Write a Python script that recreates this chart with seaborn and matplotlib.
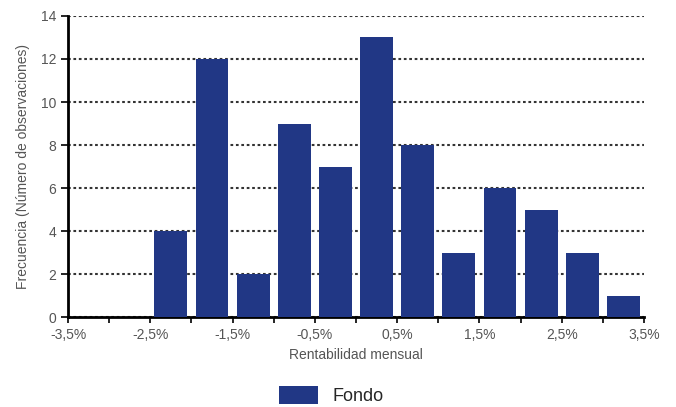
import numpy as np
import pandas as pd
import matplotlib.pyplot as plt
import seaborn as sns

# ---------------- data ----------------
bin_edges = [-3.5, -3.0, -2.5, -2.0, -1.5, -1.0, -0.5, 0.0, 0.5, 1.0, 1.5, 2.0, 2.5, 3.0, 3.5]
counts = [0, 0, 4, 12, 2, 9, 7, 13, 8, 3, 6, 5, 3, 1]
x_ticks = [-3.5, -2.5, -1.5, -0.5, 0.5, 1.5, 2.5, 3.5]
x_labels = ['-3,5%', '-2,5%', '-1,5%', '-0,5%', '0,5%', '1,5%', '2,5%', '3,5%']
y_ticks = [0, 2, 4, 6, 8, 10, 12, 14]

centers = [(bin_edges[i] + bin_edges[i + 1]) / 2 for i in range(len(counts))]
df = pd.DataFrame({'rent': centers, 'n': counts})

sns.set_style('white')
plt.rcParams['font.family'] = ['Liberation Sans', 'DejaVu Sans']

fig = plt.figure(figsize=(6.76, 4.07), dpi=100)
ax = fig.add_axes([0.1006, 0.2211, 0.852, 0.7396])

sns.histplot(data=df, x='rent', weights='n', bins=bin_edges, shrink=0.8,
             color='#213785', alpha=1, edgecolor='none', linewidth=0,
             label='Fondo', ax=ax, zorder=3)

ax.set_xlim(-3.5, 3.5)
ax.set_ylim(0, 14)
ax.set_xticks(x_ticks)
ax.set_xticklabels(x_labels)
ax.set_xticks(bin_edges, minor=True)
ax.set_yticks(y_ticks)

# dotted horizontal grid
ax.yaxis.grid(True, linestyle=(0, (1.3, 1.3)), color='#333333', linewidth=1.5, zorder=0)
ax.set_axisbelow(True)
for s in ['top', 'right']:
    ax.spines[s].set_visible(False)
for s in ['left', 'bottom']:
    ax.spines[s].set_color('black')
    ax.spines[s].set_linewidth(2)

ax.tick_params(axis='both', which='both', direction='out', color='black',
               labelcolor='#555555', labelsize=10)
ax.tick_params(axis='x', which='both', length=4, width=1.2, bottom=True, pad=4)
ax.tick_params(axis='y', length=5, width=1.2, left=True)

ax.set_xlabel('Rentabilidad mensual', color='#555555', fontsize=10, labelpad=4)
ax.set_ylabel('Frecuencia (Número de observaciones)', color='#555555', fontsize=10, labelpad=8)

fig.legend(loc='lower center', bbox_to_anchor=(0.49, -0.035), frameon=False,
           fontsize=13, handlelength=2.2, handleheight=1.2)

plt.savefig('out.png', dpi=100)
